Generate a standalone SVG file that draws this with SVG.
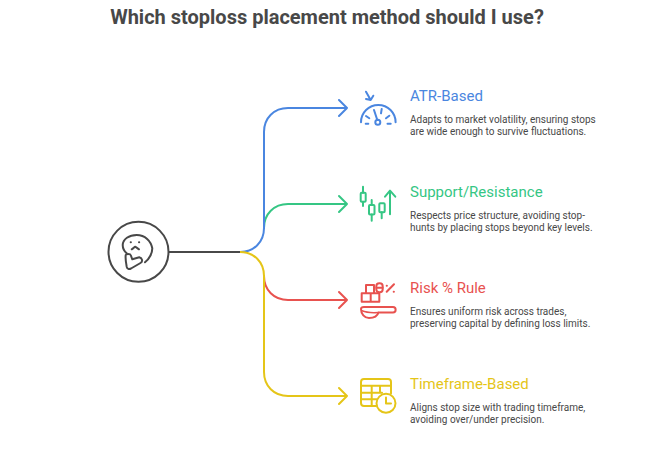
<svg xmlns="http://www.w3.org/2000/svg" width="654" height="450" viewBox="0 0 654 450">
<style>
text{font-family:Roboto,"Liberation Sans",sans-serif}
.t{font-size:20px;font-weight:700;fill:#484848;text-anchor:middle}
.h{font-size:15px}
.d{font-size:10px;fill:#484848}
.c{fill:none;stroke-width:2;stroke-linecap:round;stroke-linejoin:round}
.i{fill:none;stroke-width:2;stroke-linecap:round;stroke-linejoin:round}
.b{stroke:#4a86e0}.g{stroke:#35c684}.r{stroke:#e8524f}.y{stroke:#e5c518}
</style>
<rect width="654" height="450" fill="#fff"/>
<text class="t" x="327" y="24">Which stoploss placement method should I use?</text>
<g id="connectors">
<path class="c g" d="M264 228C264 214 274 204 288 204H347M339 196L347 204L339 212"/>
<path class="c r" d="M264 276C264 290 274 300 288 300H347M339 292L347 300L339 308"/>
<path class="c b" d="M240 252C254 252 264 242 264 228V132C264 118 274 108 288 108H347M339 100L347 108L339 116"/>
<path class="c y" d="M240 252C254 252 264 262 264 276V372C264 386 274 396 288 396H347M339 388L347 396L339 404"/>
<path class="c" stroke="#484848" d="M169 252H240" style="stroke-linecap:butt"/>
</g>
<g id="root">
<circle cx="138.500" cy="251.800" r="30" fill="none" stroke="#484848" stroke-width="2"/>
<g class="i" stroke="#484848" stroke-width="1.800">
<path d="M126.700 253.300C124 251 122.700 248 122.700 245C123 239 129 235 136.700 235C145 235 151 241 152.300 248.300C152.300 253 149.500 259 145 262.300"/>
<path d="M125.700 255C125.200 259 126 263 126.700 266.700C127.200 269 129 269.500 131 268.500L140.500 263C143 261.500 142.500 258 139.300 257.300L132.300 259.300L130.700 255C130.300 253.500 126 253.500 125.700 255Z"/>
<path d="M131.700 249.300C133 248.500 134 247.500 135 246.700C136.500 247.500 137.800 248.500 139 249.300"/>
<path d="M130.700 242.300h.2M139 242.300h.2"/>
</g>
</g>
<g id="atr">
<g class="i b">
<path d="M361 122.300A17.300 17.300 0 0 1 395.600 122.300"/>
<path d="M374 110L377.300 120"/><circle cx="377.800" cy="122.300" r="2.500"/>
<path d="M366 116L369.300 118.300M381.700 109L381 113.300M389.300 115.700L386 118.300M365.700 123.700H368.300M387.500 123.700H390.700"/>
<path d="M366 91.700L370.700 100M366 99L370.700 100L373.300 95.700"/>
</g>
<text class="h" x="410" y="101" fill="#4a86e0">ATR-Based</text>
<text class="d" x="410" y="123">Adapts to market volatility, ensuring stops</text>
<text class="d" x="410" y="135">are wide enough to survive fluctuations.</text>
</g>
<g id="support">
<g class="i g">
<rect x="360.700" y="192.700" width="5" height="9" rx="1"/><path d="M363 186.700V192.700M363 201.700V206"/>
<rect x="369" y="205" width="5.500" height="9.500" rx="1"/><path d="M371.700 200V205M371.700 214.500V220.700"/>
<rect x="379.300" y="203.300" width="5.400" height="9" rx="1"/><path d="M381.700 212.300V218.300"/>
<path d="M390 214.300V190.700M385 196.700L390 190.700L395.300 196.700"/>
</g>
<text class="h" x="410" y="197" fill="#35c684">Support/Resistance</text>
<text class="d" x="410" y="219">Respects price structure, avoiding stop-</text>
<text class="d" x="410" y="231">hunts by placing stops beyond key levels.</text>
</g>
<g id="risk">
<g class="i r">
<path d="M361.700 293.300H379.300M361.700 293.300V301.700H379.300V293.300M370.700 293.300V301.700M366 293.300V285H374M374 285V293.300"/>
<rect x="376.300" y="283.300" width="6.400" height="9" rx="3"/><path d="M376.500 287.800H382.500"/>
<path d="M386.700 291.700L394 284.300M386.700 285.700h.2M393.700 291.700h.2"/>
<path d="M361 309C361 307.500 362 307 364 307H393C396.500 307 396.500 312.500 393 312.500H378.500C377.500 316 373.500 318 369 318C364.500 318 361 314 361 309Z"/>
<path d="M362 310.800C366 312.500 374 312.800 378.500 312.500" stroke-width="1.500"/>
</g>
<text class="h" x="410" y="293" fill="#e8524f">Risk % Rule</text>
<text class="d" x="410" y="315">Ensures uniform risk across trades,</text>
<text class="d" x="410" y="327">preserving capital by defining loss limits.</text>
</g>
<g id="timeframe">
<g class="i y">
<path d="M376 406H364C362 406 361 405 361 403V382C361 380 362 379 364 379H388C390 379 391 380 391 382V393.500"/>
<path d="M361 385.700H391M361 392.700H382M361 399.300H376.500M371.700 385.700V406M380 385.700V392.700"/>
<circle cx="386" cy="403.300" r="9.500"/>
<path d="M386 397.500V403.500H391"/>
</g>
<text class="h" x="410" y="389" fill="#e5c518">Timeframe-Based</text>
<text class="d" x="410" y="411">Aligns stop size with trading timeframe,</text>
<text class="d" x="410" y="423">avoiding over/under precision.</text>
</g>
</svg>
